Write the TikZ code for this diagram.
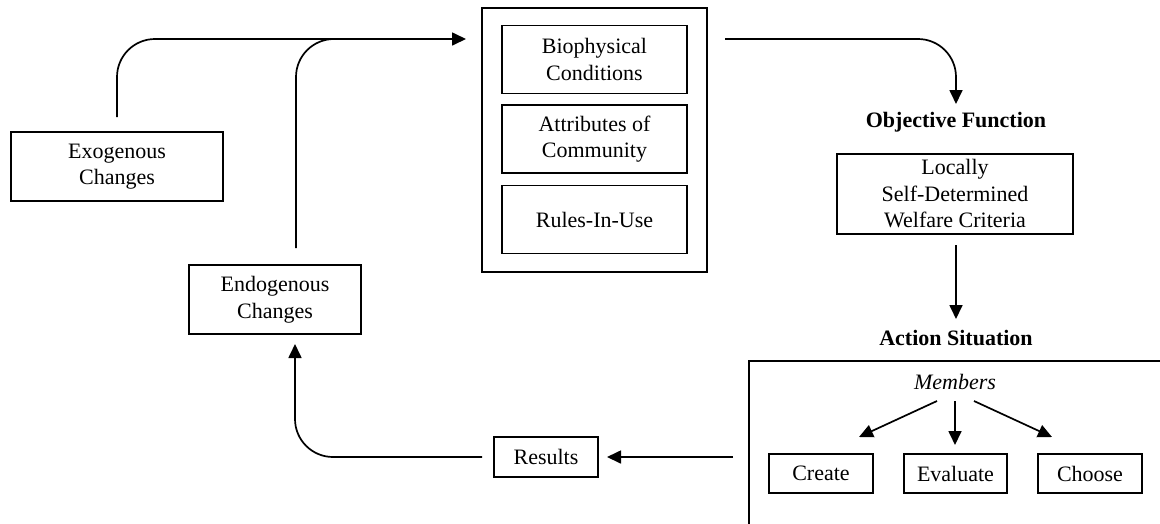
\documentclass[tikz,border=0pt]{standalone}
\usepackage{fontspec}
\setmainfont{Liberation Serif}
\usetikzlibrary{arrows.meta}
\begin{document}
\begin{tikzpicture}[x=1pt,y=-1pt,
 box/.style={draw,line width=1.3pt,align=center,inner sep=0pt,font=\fontsize{22}{26.5}\selectfont},
 lbl/.style={font=\fontsize{22}{26.5}\selectfont\bfseries},
 conn/.style={line width=1.7pt,-{Triangle[length=14pt,width=13pt]},rounded corners=38pt},
 plainline/.style={line width=1.7pt,rounded corners=38pt}]
\useasboundingbox (0,0) rectangle (1160,523);
% left boxes
\node[box,minimum width=212pt,minimum height=69pt] (exo) at (117,166.5) {Exogenous\\Changes};
\node[box,minimum width=172pt,minimum height=69pt] (endo) at (275,299.5) {Endogenous\\Changes};
% big box
\node[draw,line width=1.3pt,minimum width=225pt,minimum height=264pt,inner sep=0pt] (big) at (594.5,140) {};
\node[box,minimum width=185pt,minimum height=68pt] (bio) at (594.5,59.5) {Biophysical\\Conditions};
\node[box,minimum width=185pt,minimum height=68pt] (attr) at (594.5,139) {Attributes of\\Community};
\node[box,minimum width=185pt,minimum height=68pt] (rules) at (594.5,219.5) {Rules-In-Use};
% right column
\node[lbl] (obj) at (956,122) {Objective Function};
\node[box,minimum width=236pt,minimum height=80pt] (wel) at (955,194) {Locally\\Self-Determined\\Welfare Criteria};
\node[lbl] (act) at (956,338) {Action Situation};
\draw[line width=1.3pt] (1175,361) -- (749,361) -- (749,540);
\node[font=\fontsize{22}{26.5}\selectfont\itshape] (mem) at (955,382) {Members};
\node[box,minimum width=104pt,minimum height=39pt] (create) at (821,473.5) {Create};
\node[box,minimum width=103pt,minimum height=39pt] (eval) at (955.5,473.5) {Evaluate};
\node[box,minimum width=104pt,minimum height=39pt] (choose) at (1090,473.5) {Choose};
\node[box,minimum width=104pt,minimum height=40pt] (res) at (546,457) {Results};
% coordinates
\coordinate (exoS) at (117,117);
\coordinate (inTip) at (466,39);
\coordinate (endoS) at (296,248);
\coordinate (join) at (360,39);
\coordinate (bigOut) at (725,39);
\coordinate (objTip) at (956,104);
\coordinate (welS) at (956,245);
\coordinate (actTip) at (956,319);
\coordinate (memL) at (937,401);
\coordinate (memC) at (955,401);
\coordinate (memR) at (974,401);
\coordinate (crTip) at (859,437);
\coordinate (evTip) at (955,445);
\coordinate (chTip) at (1052,437);
\coordinate (actOut) at (733,457);
\coordinate (resTip) at (607,457);
\coordinate (resW) at (482,457);
\coordinate (endoTip) at (295,344);
% connectors
\draw[conn] (exoS) |- (inTip);
\draw[plainline] (endoS) |- (join);
\draw[conn] (bigOut) -| (objTip);
\draw[conn] (welS) -- (actTip);
\draw[conn] (memL) -- (crTip);
\draw[conn] (memC) -- (evTip);
\draw[conn] (memR) -- (chTip);
\draw[conn] (actOut) -- (resTip);
\draw[conn] (resW) -| (endoTip);
\end{tikzpicture}
\end{document}
